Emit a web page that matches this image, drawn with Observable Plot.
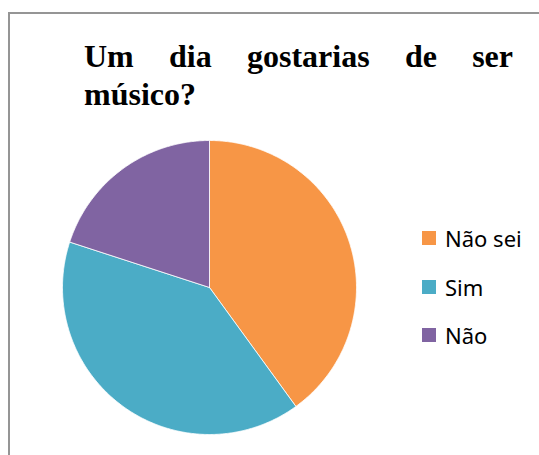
<!DOCTYPE html>
<html>
<head>
<meta charset="utf-8">
<script src="https://cdn.jsdelivr.net/npm/d3@7"></script>
<script src="https://cdn.jsdelivr.net/npm/@observablehq/plot@0.6"></script>
<style>
  html, body { margin: 0; padding: 0; background: #fff; }
  #wrap { position: relative; width: 539px; height: 455px; overflow: hidden; }
  #frame { position: absolute; left: 8px; top: 12px; width: 600px; height: 600px;
           border-top: 2px solid #959595; border-left: 2px solid #959595; }
  #title { position: absolute; left: 84px; top: 37px; width: 429px;
           font-family: "Liberation Serif", "Times New Roman", serif; font-weight: bold;
           font-size: 32px; line-height: 38px; text-align: justify; color: #000; }
  #chart { position: absolute; left: 0; top: 0; }
  .leg { position: absolute; left: 422px; height: 24px; display: flex; align-items: center;
         font-family: "Noto Sans", sans-serif; font-size: 22px; color: #000; }
  .leg .sw { width: 14px; height: 14px; margin-right: 9px; }
</style>
</head>
<body>
<div id="wrap">
  <div id="frame"></div>
  <div id="chart"></div>
  <div id="title">Um dia gostarias de ser músico?</div>
</div>
<script>
const title = "Um dia gostarias de ser músico?";
const categories = ["Não sei", "Sim", "Não"];
const values = [40, 40, 20];
const colors = ["#F79646", "#4BACC6", "#8064A2"];

const W = 539, H = 455;
const cx = 209, cy = 287, r = 147;

const pie = d3.pie().sort(null).value(d => d.value);
const arcs = pie(categories.map((c, i) => ({category: c, value: values[i]})));

const pts = [];
for (const a of arcs) {
  const cat = a.data.category;
  pts.push({category: cat, x: 0, y: 0});
  const n = Math.max(2, Math.ceil((a.endAngle - a.startAngle) / (Math.PI / 360)));
  for (let k = 0; k <= n; k++) {
    const t = a.startAngle + (a.endAngle - a.startAngle) * k / n;
    pts.push({category: cat, x: Math.sin(t), y: Math.cos(t)});
  }
  pts.push({category: cat, x: 0, y: 0});
}

const plot = Plot.plot({
  width: W, height: H,
  margin: 0,
  x: {domain: [-1, 1], range: [cx - r, cx + r], axis: null},
  y: {domain: [-1, 1], range: [cy + r, cy - r], axis: null},
  color: {domain: categories, range: colors},
  marks: [
    Plot.line(pts, {x: "x", y: "y", z: "category", fill: "category",
                    stroke: "white", strokeWidth: 0.8, curve: "linear-closed"})
  ]
});
document.getElementById("chart").appendChild(plot);

const rowsY = [238, 287, 335];
const wrap = document.getElementById("wrap");
categories.forEach((c, i) => {
  const d = document.createElement("div");
  d.className = "leg";
  d.style.top = (rowsY[i] - 12) + "px";
  const sw = document.createElement("div");
  sw.className = "sw";
  sw.style.background = colors[i];
  const t = document.createElement("span");
  t.textContent = c;
  d.appendChild(sw); d.appendChild(t);
  wrap.appendChild(d);
});
</script>
</body>
</html>
